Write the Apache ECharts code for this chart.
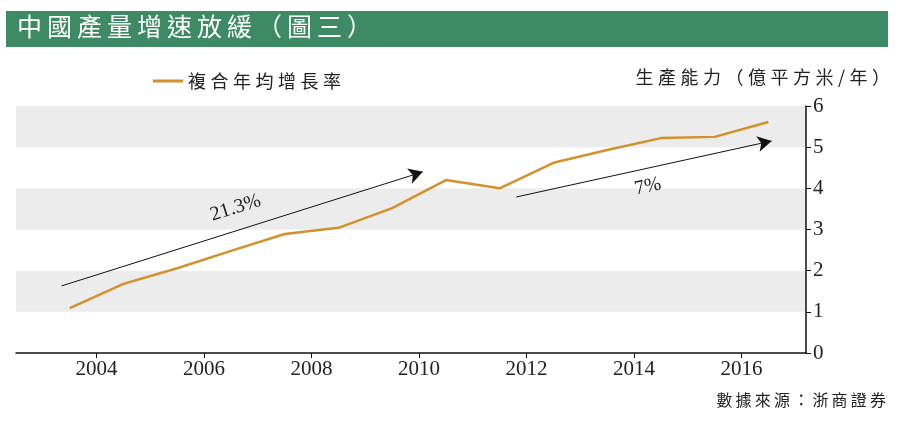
<!DOCTYPE html>
<html><head><meta charset="utf-8">
<script src="https://cdn.jsdelivr.net/npm/echarts@6/dist/echarts.min.js"></script>
<style>html,body{margin:0;padding:0;background:#fff}#c{width:900px;height:421px}</style>
</head><body><div id="c"></div>
<script>
const years = [2003,2004,2005,2006,2007,2008,2009,2010,2011,2012,2013,2014,2015,2016];
const capacity = [1.09,1.68,2.06,2.48,2.89,3.04,3.52,4.20,4.00,4.62,4.93,5.22,5.25,5.61];
const xTickLabels = [2004,2006,2008,2010,2012,2014,2016];
const yTicks = [0,1,2,3,4,5,6];
const arrow1 = {from:[2003.35,1.63], to:[2010.07,4.40], label:'21.3%'};
const arrow2 = {from:[2011.81,3.79], to:[2016.56,5.15], label:'7%'};
const titleText = '中國產量增速放緩（圖三）';
const seriesName = '複合年均增長率';
const yAxisName = '生產能力（億平方米/年）';
const sourceText = '數據來源：浙商證券';

const serif = '"Liberation Serif","DejaVu Serif","Noto Sans CJK TC",serif';
const cjk = '"Noto Sans CJK TC","Noto Sans CJK SC",sans-serif';
const sp = (s, c) => s.split('').join(c);
const chart = echarts.init(document.getElementById('c'));
chart.setOption({
  animation:false,
  backgroundColor:'#fff',
  graphic:[
    {type:'rect', shape:{x:6,y:11,width:882,height:36}, style:{fill:'#3e8a64'}},
    {type:'text', left:17, top:14, style:{text:sp(titleText,'\u2009'), fill:'#fff', font:'400 25px '+cjk}},
    {type:'text', right:10, top:68, style:{text:sp(yAxisName,'\u2005'), fill:'#222', font:'400 18px '+cjk}},
    {type:'text', right:14, top:392, style:{text:sp(sourceText,'\u2009'), fill:'#222', font:'400 16px '+cjk}}
  ],
  legend:{
    left:148, top:67, itemWidth:30, itemHeight:3, icon:'rect', itemGap:10,
    textStyle:{fontFamily:cjk, fontSize:18, color:'#222'},
    formatter: n => sp(n,'\u2005'),
    data:[seriesName]
  },
  grid:{left:16, right:94, top:106, bottom:68},
  xAxis:{
    type:'value', min:2002.5, max:2017.2,
    axisLine:{lineStyle:{color:'#111', width:1.5}},
    axisTick:{show:true, customValues:xTickLabels, length:5, lineStyle:{color:'#111'}},
    axisLabel:{customValues:xTickLabels, formatter: v => String(v), fontFamily:serif, fontSize:21, color:'#222', margin:6},
    splitLine:{show:false}
  },
  yAxis:{
    type:'value', position:'right', min:0, max:6, interval:1,
    axisLine:{show:true, lineStyle:{color:'#111', width:1.5}},
    axisTick:{show:true, length:5, lineStyle:{color:'#111'}},
    axisLabel:{fontFamily:serif, fontSize:21, color:'#222', margin:7},
    splitLine:{show:false},
    splitArea:{show:true, areaStyle:{color:['#ffffff','#ececec']}}
  },
  series:[{
    name:seriesName, type:'line', symbol:'none',
    lineStyle:{color:'#d3912c', width:2.5}, itemStyle:{color:'#d3912c'},
    data: years.map((y,i)=>[y+0.5, capacity[i]]),
    markLine:{
      silent:true, symbol:['none','arrow'], symbolSize:[12,14],
      lineStyle:{color:'#111', width:1, type:'solid'},
      data:[
        [{coord:arrow1.from, label:{show:true, formatter:arrow1.label, position:'insideMiddleTop', distance:12, fontFamily:serif, fontSize:20, color:'#222'}},{coord:arrow1.to}],
        [{coord:arrow2.from, label:{show:true, formatter:arrow2.label, position:'insideMiddleBottom', distance:8, fontFamily:serif, fontSize:20, color:'#222'}},{coord:arrow2.to}]
      ]
    }
  }]
});
</script></body></html>
